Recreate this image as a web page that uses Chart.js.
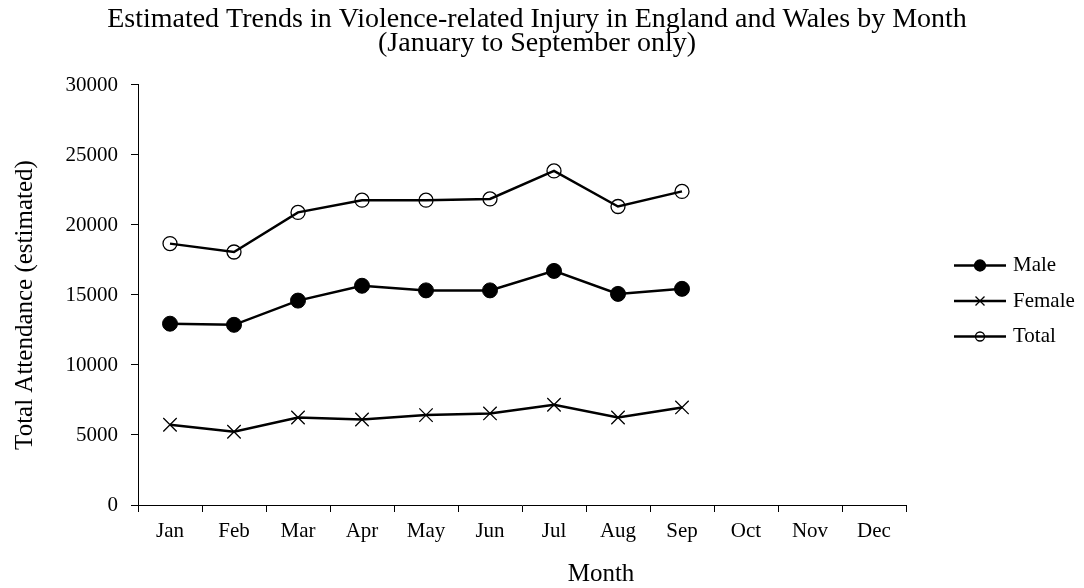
<!DOCTYPE html>
<html>
<head>
<meta charset="utf-8">
<script src="https://cdn.jsdelivr.net/npm/chart.js@4/dist/chart.umd.min.js"></script>
<style>
  html, body { margin: 0; padding: 0; background: #ffffff; }
  #wrap { width: 1084px; height: 588px; }
</style>
</head>
<body>
<div id="wrap"><canvas id="c" width="1084" height="588"></canvas></div>
<script>
// Months on the category axis (data only collected January to September)
const months = ['Jan', 'Feb', 'Mar', 'Apr', 'May', 'Jun', 'Jul', 'Aug', 'Sep', 'Oct', 'Nov', 'Dec'];

// Estimated attendances per month
const male   = [12950, 12870, 14600, 15660, 15330, 15330, 16720, 15080, 15440];
const female = [5730, 5230, 6250, 6110, 6420, 6540, 7160, 6250, 6970];
const total  = [18670, 18070, 20900, 21770, 21770, 21860, 23860, 21320, 22400];

const yTicks = [0, 5000, 10000, 15000, 20000, 25000, 30000];

const FONT = "'Liberation Serif', 'Times New Roman', serif";
const X_TITLE = 'Month';
const Y_TITLE = 'Total Attendance (estimated)';

// Legend entries drawn as a short line with the series marker on it
const legendPlugin = {
  id: 'lineLegend',
  afterDraw(chart) {
    const ctx = chart.ctx;
    const area = chart.chartArea;
    const midY = (area.top + area.bottom) / 2;
    chart.data.datasets.forEach((ds, i) => {
      const y = midY + 6 + (i - 1) * 35.5;
      const x0 = area.right + 48;
      const x1 = area.right + 100;
      const xm = (x0 + x1) / 2;
      ctx.save();
      ctx.strokeStyle = '#000';
      ctx.lineWidth = 2.5;
      ctx.beginPath();
      ctx.moveTo(x0, y);
      ctx.lineTo(x1, y);
      ctx.stroke();
      ctx.lineWidth = 1.3;
      if (ds.pointStyle === 'circle') {
        ctx.beginPath();
        ctx.arc(xm, y, ds.legendRadius, 0, Math.PI * 2);
        if (ds.pointBackgroundColor !== 'rgba(0,0,0,0)') {
          ctx.fillStyle = ds.pointBackgroundColor;
          ctx.fill();
        }
        ctx.stroke();
      } else {
        const r = ds.legendRadius;
        ctx.beginPath();
        ctx.moveTo(xm - r, y - r); ctx.lineTo(xm + r, y + r);
        ctx.moveTo(xm - r, y + r); ctx.lineTo(xm + r, y - r);
        ctx.stroke();
      }
      ctx.fillStyle = '#000';
      ctx.font = '21px ' + FONT;
      ctx.textAlign = 'left';
      ctx.textBaseline = 'middle';
      ctx.fillText(ds.label, x1 + 7, y);
      ctx.restore();
    });
  }
};

// Axis titles placed relative to the plot area
const axisTitlePlugin = {
  id: 'axisTitles',
  afterDraw(chart) {
    const ctx = chart.ctx;
    const area = chart.chartArea;
    ctx.save();
    ctx.fillStyle = '#000';
    ctx.font = '25px ' + FONT;
    ctx.textAlign = 'center';
    ctx.textBaseline = 'alphabetic';
    ctx.fillText(X_TITLE, (area.left + area.right) / 2 + 79, chart.height - 7);
    ctx.translate(32, (area.top + area.bottom) / 2 + 10);
    ctx.rotate(-Math.PI / 2);
    ctx.fillText(Y_TITLE, 0, 0);
    ctx.restore();
  }
};

new Chart(document.getElementById('c'), {
  type: 'line',
  data: {
    labels: months,
    datasets: [
      {
        label: 'Male',
        data: male,
        borderColor: '#000',
        borderWidth: 2.5,
        pointStyle: 'circle',
        pointRadius: 7.5,
        pointBackgroundColor: '#000',
        pointBorderColor: '#000',
        pointBorderWidth: 1,
        legendRadius: 5.5,
        tension: 0
      },
      {
        label: 'Female',
        data: female,
        borderColor: '#000',
        borderWidth: 2.5,
        pointStyle: 'crossRot',
        pointRadius: 9.5,
        pointBackgroundColor: '#000',
        pointBorderColor: '#000',
        pointBorderWidth: 1.3,
        legendRadius: 4.5,
        tension: 0
      },
      {
        label: 'Total',
        data: total,
        borderColor: '#000',
        borderWidth: 2.5,
        pointStyle: 'circle',
        pointRadius: 7,
        pointBackgroundColor: 'rgba(0,0,0,0)',
        pointBorderColor: '#000',
        pointBorderWidth: 1.3,
        legendRadius: 4.5,
        tension: 0
      }
    ]
  },
  options: {
    responsive: false,
    animation: false,
    devicePixelRatio: 1,
    layout: { padding: { left: 0, right: 10, top: 0, bottom: 0 } },
    plugins: {
      legend: { display: false },
      tooltip: { enabled: false },
      title: {
        display: true,
        text: ['Estimated Trends in Violence-related Injury in England and Wales by Month',
               '(January to September only)'],
        color: '#000',
        font: { family: FONT, size: 28, weight: 'normal', lineHeight: 0.857 },
        padding: { top: 8, bottom: 29 }
      }
    },
    scales: {
      x: {
        type: 'category',
        offset: true,
        grid: {
          display: true,
          drawOnChartArea: false,
          drawTicks: true,
          tickLength: 7,
          tickColor: '#000',
          tickWidth: 1,
          offset: true
        },
        border: { display: true, color: '#000', width: 1 },
        ticks: {
          color: '#000',
          padding: 7,
          maxRotation: 0,
          autoSkip: false,
          font: { family: FONT, size: 21 }
        },
        title: { display: false },
        afterFit(scale) { scale.height = 83; }
      },
      y: {
        min: 0,
        max: 30000,
        afterBuildTicks(scale) { scale.ticks = yTicks.map(v => ({ value: v })); },
        grid: {
          display: true,
          drawOnChartArea: false,
          drawTicks: true,
          tickLength: 7,
          tickColor: '#000',
          tickWidth: 1
        },
        border: { display: true, color: '#000', width: 1 },
        ticks: {
          color: '#000',
          padding: 13,
          font: { family: FONT, size: 21 },
          callback: (v) => String(v)
        },
        title: { display: false },
        afterFit(scale) { scale.width = 138; }
      },
      // Empty band on the right that leaves room for the legend
      side: {
        position: 'right',
        display: true,
        grid: { display: false, drawTicks: false },
        border: { display: false },
        ticks: { display: false },
        afterFit(scale) { scale.width = 168; }
      }
    }
  },
  plugins: [legendPlugin, axisTitlePlugin]
});
</script>
</body>
</html>
